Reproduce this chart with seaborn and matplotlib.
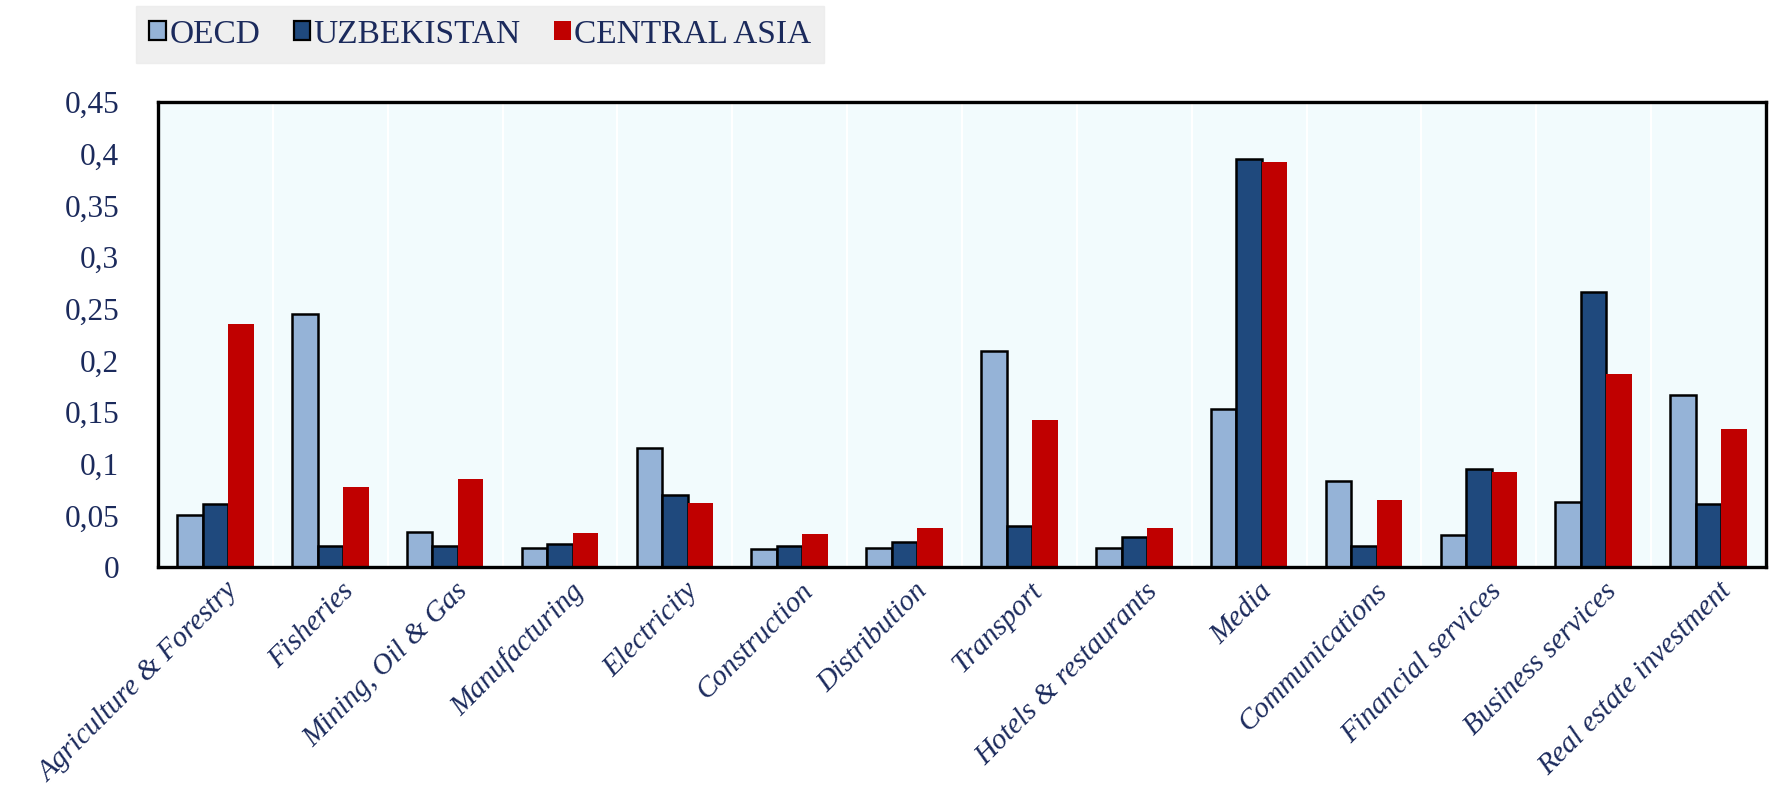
import pandas as pd
import matplotlib.pyplot as plt
import matplotlib.transforms as mtransforms
import seaborn as sns
from matplotlib.patches import Patch

# --- data ---
sectors = ['Agriculture & Forestry', 'Fisheries', 'Mining, Oil & Gas', 'Manufacturing',
           'Electricity', 'Construction', 'Distribution', 'Transport',
           'Hotels & restaurants', 'Media', 'Communications', 'Financial services',
           'Business services', 'Real estate investment']
regions = ['OECD', 'UZBEKISTAN', 'CENTRAL ASIA']
oecd = [0.050, 0.245, 0.034, 0.018, 0.115, 0.017, 0.018, 0.209, 0.018, 0.153, 0.083, 0.031, 0.063, 0.166]
uzbekistan = [0.061, 0.020, 0.020, 0.022, 0.070, 0.020, 0.024, 0.040, 0.029, 0.395, 0.020, 0.095, 0.266, 0.061]
central_asia = [0.235, 0.077, 0.085, 0.033, 0.062, 0.032, 0.038, 0.142, 0.038, 0.392, 0.065, 0.092, 0.187, 0.134]
yticks = [0, 0.05, 0.1, 0.15, 0.2, 0.25, 0.3, 0.35, 0.4, 0.45]
ytick_labels = ['0', '0,05', '0,1', '0,15', '0,2', '0,25', '0,3', '0,35', '0,4', '0,45']

colors = ['#95B3D7', '#1F497D', '#C00000']
text_color = '#1B2A5C'

df = pd.DataFrame({
    'sector': sectors * 3,
    'region': [r for r in regions for _ in sectors],
    'value': oecd + uzbekistan + central_asia,
})

sns.set_style('white')
plt.rcParams['font.family'] = ['Liberation Serif', 'DejaVu Serif']

fig = plt.figure(figsize=(17.72, 7.94), dpi=100)
ax = fig.add_axes([158 / 1772, 1 - 567 / 794, (1766 - 158) / 1772, (567 - 102) / 794])
ax.set_facecolor('#F2FBFD')

sns.barplot(data=df, x='sector', y='value', hue='region', palette=colors,
            width=0.667, saturation=1, edgecolor='black', linewidth=1.8,
            legend=False, ax=ax)
# red series has no outline
for p in ax.containers[2]:
    p.set_linewidth(0)

ax.set_xlim(-0.5, len(sectors) - 0.5)
ax.set_ylim(0, 0.45)
ax.set_yticks(yticks)
ax.set_yticklabels(ytick_labels, fontsize=22.5, color=text_color)
ax.set_xlabel('')
ax.set_ylabel('')

# faint white separators between sectors
for k in range(len(sectors) - 1):
    ax.axvline(k + 0.5, color='white', lw=1.5, zorder=0)

ax.set_xticks(range(len(sectors)))
ax.set_xticklabels(sectors, rotation=45, ha='right', rotation_mode='anchor',
                   fontsize=21, style='italic', color=text_color)
ax.tick_params(axis='x', length=0, pad=8)
# nudge the slanted labels a little to the right of the group centre
shift = mtransforms.ScaledTranslation(10 / 100, 0, fig.dpi_scale_trans)
for lab in ax.get_xticklabels():
    lab.set_transform(lab.get_transform() + shift)
ax.set_xticks([k + 0.5 for k in range(len(sectors) - 1)], minor=True)
ax.tick_params(axis='x', which='minor', direction='in', length=9, width=2.5, color='black')
ax.tick_params(axis='y', direction='in', length=9, width=2.5, color='black', pad=28)

for s in ax.spines.values():
    s.set_visible(True)
    s.set_color('black')
    s.set_linewidth(2.4)

# legend in grey box at the top
handles = [Patch(facecolor=colors[0], edgecolor='black', linewidth=1.6),
           Patch(facecolor=colors[1], edgecolor='black', linewidth=1.6),
           Patch(facecolor=colors[2], edgecolor='none')]
leg = fig.legend(handles, regions, loc='upper left', bbox_to_anchor=(136 / 1772, 1 - 6 / 794),
                 ncol=3, frameon=True, fancybox=False, fontsize=24,
                 handlelength=0.5, handleheight=0.5, handletextpad=0.1,
                 columnspacing=1.0, borderpad=0.4, borderaxespad=0)
leg.get_frame().set_facecolor('#EBEBEB')
leg.get_frame().set_edgecolor('#EBEBEB')
for t in leg.get_texts():
    t.set_color(text_color)

fig.savefig('out.png', dpi=100)
